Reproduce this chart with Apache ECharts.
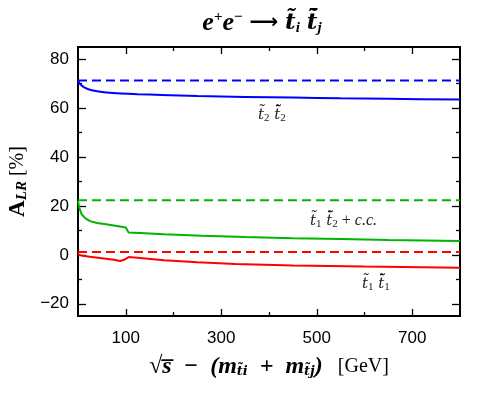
<!DOCTYPE html>
<html>
<head>
<meta charset="utf-8">
<script src="https://cdn.jsdelivr.net/npm/echarts@6/dist/echarts.min.js"></script>
<style>
  html, body { margin: 0; padding: 0; background: #fff; }
  #chart { width: 504px; height: 393px; }
</style>
</head>
<body>
<div id="chart"></div>
<script>
// t2 t2bar
var blueX = [0, 3, 8, 15, 25, 40, 60, 90, 125, 175, 250, 350, 450, 550, 650, 800];
var blueY = [71.5, 70.2, 69.2, 68.3, 67.5, 66.9, 66.4, 66.0, 65.7, 65.4, 65.0, 64.6, 64.3, 64.0, 63.8, 63.5];
// t1 t2bar + c.c.
var greenX = [0, 3, 8, 15, 25, 40, 55, 75, 100, 104, 106, 130, 180, 260, 350, 450, 550, 650, 800];
var greenY = [22, 19, 16.5, 15, 13.8, 13, 12.6, 12, 11.2, 11.0, 9.1, 8.9, 8.4, 7.8, 7.3, 6.8, 6.5, 6.1, 5.7];
// t1 t1bar
var redX = [0, 10, 25, 50, 75, 88, 95, 100, 106, 130, 180, 250, 330, 450, 600, 800];
var redY = [0.2, -0.4, -0.8, -1.4, -2.0, -2.5, -2.1, -1.6, -0.9, -1.3, -2.2, -3.0, -3.7, -4.3, -4.8, -5.3];
// dashed reference levels
var dashX = [0, 800];
var blueDash = 71.3, greenDash = 22.3, redDash = 1.2;

var xMajor = [100, 300, 500, 700];
var xMinor = [200, 400, 600];
var yMajor = [-20, 0, 20, 40, 60, 80];
var yMinor = [-10, 10, 30, 50, 70];

function pairs(xs, ys) {
  return xs.map(function (x, i) { return [x, ys[i]]; });
}
function flat(xs, v) {
  return xs.map(function (x) { return [x, v]; });
}

var chart = echarts.init(document.getElementById('chart'));

var serif = 'Liberation Serif';
var dserif = 'DejaVu Serif';
var sans = 'Liberation Sans';

function xAx(pos, ticks, len, labels, extra) {
  var a = {
    type: 'value', min: 0, max: 800, position: pos,
    axisLine: { show: true, onZero: false, lineStyle: { color: '#000', width: 2 } },
    axisTick: { show: true, inside: true, length: len, customValues: ticks, lineStyle: { color: '#000', width: 1.3 } },
    axisLabel: labels ? { show: true, customValues: xMajor, color: '#000', fontFamily: sans, fontSize: 17, margin: 14 } : { show: false },
    splitLine: { show: false }
  };
  return Object.assign(a, extra || {});
}
function yAx(pos, ticks, len, labels, extra) {
  var a = {
    type: 'value', min: -25, max: 85, position: pos,
    axisLine: { show: true, onZero: false, lineStyle: { color: '#000', width: 2 } },
    axisTick: { show: true, inside: true, length: len, customValues: ticks, lineStyle: { color: '#000', width: 1.3 } },
    axisLabel: labels ? {
      show: true, customValues: yMajor, color: '#000', fontFamily: sans, fontSize: 17, margin: 9,
      formatter: function (v) { return v < 0 ? '\u2212' + Math.abs(v) : String(v); }
    } : { show: false },
    splitLine: { show: false }
  };
  return Object.assign(a, extra || {});
}

function labelRich() {
  return {
    i: { fontFamily: dserif, fontStyle: 'italic', fontSize: 15, fill: '#222', lineHeight: 22 },
    r: { fontFamily: serif, fontSize: 16, fill: '#222', lineHeight: 22 },
    c: { fontFamily: serif, fontStyle: 'italic', fontSize: 16, fill: '#222', lineHeight: 22 },
    sb: { fontFamily: serif, fontSize: 11, fill: '#222', lineHeight: 22, padding: [7, 0, 0, 0] }
  };
}

var option = {
  animation: false,
  backgroundColor: '#fff',
  grid: { left: 78, right: 44, top: 47, bottom: 77, outerBoundsMode: 'none', containLabel: false },
  title: {
    text: '{i|e}{sp|+}{i|e}{sp|\u2212}{r| \u27F6 }{t|t\u0303}{sb|i}{r| }{t|t\u0303\u0304}{sb|j}',
    left: 257, top: 2, textAlign: 'center',
    textStyle: {
      rich: {
        i: { fontFamily: serif, fontStyle: 'italic', fontWeight: 'bold', fontSize: 26, color: '#000', lineHeight: 32 },
        t: { fontFamily: dserif, fontStyle: 'italic', fontWeight: 'bold', fontSize: 23, color: '#000', lineHeight: 32 },
        r: { fontFamily: 'DejaVu Sans', fontSize: 20, color: '#000', lineHeight: 32 },
        sp: { fontFamily: serif, fontWeight: 'bold', fontSize: 15, color: '#000', lineHeight: 32, padding: [0, 0, 12, 0] },
        sb: { fontFamily: serif, fontStyle: 'italic', fontWeight: 'bold', fontSize: 15, color: '#000', lineHeight: 32, padding: [10, 0, 0, 0] }
      }
    }
  },
  xAxis: [
    xAx('bottom', xMajor, 7, true, {
      name: '{i|\u221As\u0305  \u2212  (m}{sb|t\u0303i}{i|  +  m}{sb|t\u0303j}{i|)}{r|   [GeV]}',
      nameLocation: 'middle', nameGap: 37,
      nameTextStyle: {
        rich: {
          i: { fontFamily: serif, fontStyle: 'italic', fontWeight: 'bold', fontSize: 24, color: '#000', lineHeight: 28 },
          r: { fontFamily: serif, fontSize: 20, color: '#000', lineHeight: 28 },
          sb: { fontFamily: dserif, fontStyle: 'italic', fontWeight: 'bold', fontSize: 13, color: '#000', lineHeight: 28, padding: [10, 0, 0, 0] }
        }
      }
    }),
    xAx('bottom', xMinor, 4, false),
    xAx('top', xMajor, 7, false),
    xAx('top', xMinor, 4, false)
  ],
  yAxis: [
    yAx('left', yMajor, 8, true, {
      name: '{i|A}{sb|LR}{r| [%]}',
      nameLocation: 'middle', nameGap: 46, nameRotate: 90,
      nameTextStyle: {
        rich: {
          i: { fontFamily: serif, fontWeight: 'bold', fontSize: 23, color: '#000', lineHeight: 28 },
          r: { fontFamily: serif, fontSize: 20, color: '#000', lineHeight: 28 },
          sb: { fontFamily: serif, fontStyle: 'italic', fontWeight: 'bold', fontSize: 15, color: '#000', lineHeight: 28, padding: [8, 0, 0, 0] }
        }
      }
    }),
    yAx('left', yMinor, 4, false),
    yAx('right', yMajor, 8, false),
    yAx('right', yMinor, 4, false)
  ],
  series: [
    { type: 'line', data: flat(dashX, blueDash), showSymbol: false, lineStyle: { color: '#0000ff', width: 2, type: [9, 5] } },
    { type: 'line', data: pairs(blueX, blueY), showSymbol: false, smooth: 0.3, lineStyle: { color: '#0000ff', width: 2 } },
    { type: 'line', data: flat(dashX, greenDash), showSymbol: false, lineStyle: { color: '#00b400', width: 2, type: [9, 5] } },
    { type: 'line', data: pairs(greenX, greenY), showSymbol: false, lineStyle: { color: '#00b400', width: 2 } },
    { type: 'line', data: flat(dashX, redDash), showSymbol: false, lineStyle: { color: '#ff0000', width: 2, type: [9, 5] } },
    { type: 'line', data: pairs(redX, redY), showSymbol: false, lineStyle: { color: '#ff0000', width: 2 } }
  ],
  graphic: [
    { type: 'text', left: 258, top: 106, style: { rich: labelRich(), text: '{i|t\u0303}{sb|2}{i| t\u0303\u0304}{sb|2}' } },
    { type: 'text', left: 310, top: 212, style: { rich: labelRich(), text: '{i|t\u0303}{sb|1}{i| t\u0303\u0304}{sb|2}{r| + }{c|c.c.}' } },
    { type: 'text', left: 362, top: 275, style: { rich: labelRich(), text: '{i|t\u0303}{sb|1}{i| t\u0303\u0304}{sb|1}' } }
  ]
};

chart.setOption(option);
window.addEventListener('resize', function () { chart.resize(); });
</script>
</body>
</html>
